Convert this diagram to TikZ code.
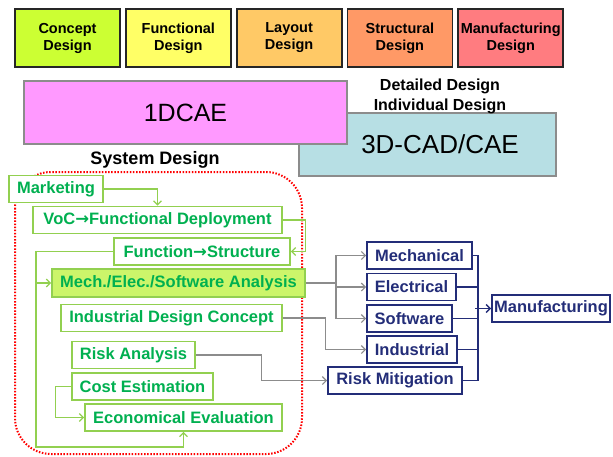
\documentclass[tikz,border=0pt]{standalone}
\usepackage{fontspec}
\setmainfont{Liberation Sans}
\newfontfamily\arrowfont{DejaVu Sans}
\usetikzlibrary{positioning,arrows.meta}

\definecolor{conceptc}{HTML}{CCFF33}
\definecolor{functc}{HTML}{FFFF66}
\definecolor{layoutc}{HTML}{FFC966}
\definecolor{structc}{HTML}{FF9966}
\definecolor{manufc}{HTML}{FF7C80}
\definecolor{onedc}{HTML}{FF99FF}
\definecolor{threedc}{HTML}{B7DFE4}
\definecolor{sysborder}{HTML}{92D050}
\definecolor{systext}{HTML}{00B050}
\definecolor{analysisc}{HTML}{CCF56A}
\definecolor{navy}{HTML}{232D78}
\definecolor{linkgray}{HTML}{8C8C8C}

\newcommand{\rarr}{{\arrowfont\bfseries →}}

\begin{document}
\begin{tikzpicture}[x=1pt, y=-1pt, node distance=0pt,
  phasenode/.style={rectangle, draw=black!85, line width=1.8pt, minimum width=105pt, minimum height=58pt, inner sep=0pt, align=center, font=\fontsize{14.5}{17}\selectfont\bfseries},
  toolnode/.style={rectangle, draw=black!45, line width=1.8pt, minimum height=63pt, inner sep=0pt},
  sysnode/.style={rectangle, draw=sysborder, line width=1.6pt, text=systext, minimum height=27pt, inner sep=0pt, font=\fontsize{16.5}{18}\selectfont\bfseries},
  detnode/.style={rectangle, draw=navy, line width=1.6pt, text=navy, minimum height=27pt, inner sep=0pt, font=\fontsize{16.5}{18}\selectfont\bfseries},
  garrow/.style={draw=sysborder, line width=1.3pt, -{Straight Barb[length=4pt,width=8pt]}},
  grayarrow/.style={draw=linkgray, line width=1.2pt, -{Straight Barb[length=4pt,width=8pt]}},
  grayline/.style={draw=linkgray, line width=1.2pt},
  navyline/.style={draw=navy, line width=1.5pt},
  navyarrow/.style={draw=navy, line width=1.5pt, -{Straight Barb[length=4pt,width=8pt]}}
]
\useasboundingbox (0,0) rectangle (613,456);

%Phases
\node[phasenode, fill=conceptc] (concept) at (67.5,38) {Concept\\Design};
\node[phasenode, fill=functc, right=4pt of concept] (funct) {Functional\\Design};
\node[phasenode, fill=layoutc, right=4pt of funct] (layout) {Layout\\Design};
\node[phasenode, fill=structc, right=4pt of layout] (struct) {Structural\\Design};
\node[phasenode, fill=manufc, right=4pt of struct] (manufd) {Manufacturing\\Design};

%Tools
\node[toolnode, fill=threedc, minimum width=257pt, font=\fontsize{26}{30}\selectfont] (cad) at (427.5,144.5) {\hspace*{25pt}3D-CAD/CAE};
\node[toolnode, fill=onedc, minimum width=323pt, font=\fontsize{25}{28}\selectfont] (onedcae) at (185.5,112.5) {1DCAE};
\node[align=center, font=\fontsize{16}{20}\selectfont\bfseries] (detail) at (440,96) {Detailed Design\\Individual Design};
\node[font=\fontsize{18}{20}\selectfont\bfseries] (sysdes) at (155,160) {System Design};

% System design frame
\draw[red, line width=2pt, dash pattern=on 1.5pt off 1.6pt, rounded corners=36pt] (15,172) rectangle (302,454);

%System nodes
\node[sysnode, fill=white, minimum width=94pt] (mkt) at (56,189) {Marketing};
\node[sysnode, fill=white, minimum width=249pt] (voc) at (157.5,220) {VoC\rarr Functional Deployment};
\node[sysnode, fill=white, minimum width=176pt] (fs) at (202,251.5) {Function\rarr Structure};
\node[sysnode, fill=analysisc, minimum width=253pt, minimum height=28pt] (mesa) at (178.5,283) {Mech./Elec./Software Analysis};
\node[sysnode, fill=white, minimum width=221pt] (idc) at (171.5,318) {Industrial Design Concept};
\node[sysnode, fill=white, minimum width=123pt] (risk) at (133.5,355) {Risk Analysis};
\node[sysnode, fill=white, minimum width=141pt] (cost) at (142.5,386.5) {Cost Estimation};
\node[sysnode, fill=white, minimum width=197pt] (econ) at (183.5,417.5) {Economical Evaluation};

%Detailed nodes
\node[detnode, minimum width=105pt] (mech) at (419.5,255.5) {Mechanical};
\node[detnode, minimum width=89pt] (elec) at (411.5,287) {Electrical};
\node[detnode, minimum width=85pt] (soft) at (409.5,318.5) {Software};
\node[detnode, minimum width=90pt] (ind) at (412,349.5) {Industrial};
\node[detnode, minimum width=134pt] (rmit) at (395,380.5) {Risk Mitigation};
\node[detnode, minimum width=118pt] (manu) at (551,308.5) {Manufacturing};

%Green arrows
\draw[garrow] (mkt.east) -| (voc.north);
\draw[garrow] (voc.east) -- ++(23,0) |- (fs.east);
\coordinate (fsdown) at (36,447);
\draw[garrow] (fs.west) -| (fsdown) -| (econ.south);
\draw[garrow] (mesa.west -| fsdown) -- (mesa.west);
\draw[garrow] (cost.west) -- ++(-16,0) |- (econ.west);

%Gray arrows
\coordinate (split) at (336,283);
\draw[grayline] (mesa.east) -- (split);
\draw[grayarrow] (split) |- (mech.west);
\draw[grayarrow] (split) |- (elec.west);
\draw[grayarrow] (split) |- (soft.west);
\draw[grayarrow] (idc.east) -- ++(43,0) |- (ind.west);
\draw[grayarrow] (risk.east) -- ++(66,0) |- (rmit.west);

%Navy arrows
\coordinate (bus) at (478,380.5);
\foreach \n in {mech,elec,soft,ind}
  \draw[navyline] (\n.east) -| (bus);
\draw[navyline] (rmit.east) -- (bus);
\draw[navyarrow] (bus |- manu.west) ++(-3,0) -- (manu.west);

\end{tikzpicture}
\end{document}
